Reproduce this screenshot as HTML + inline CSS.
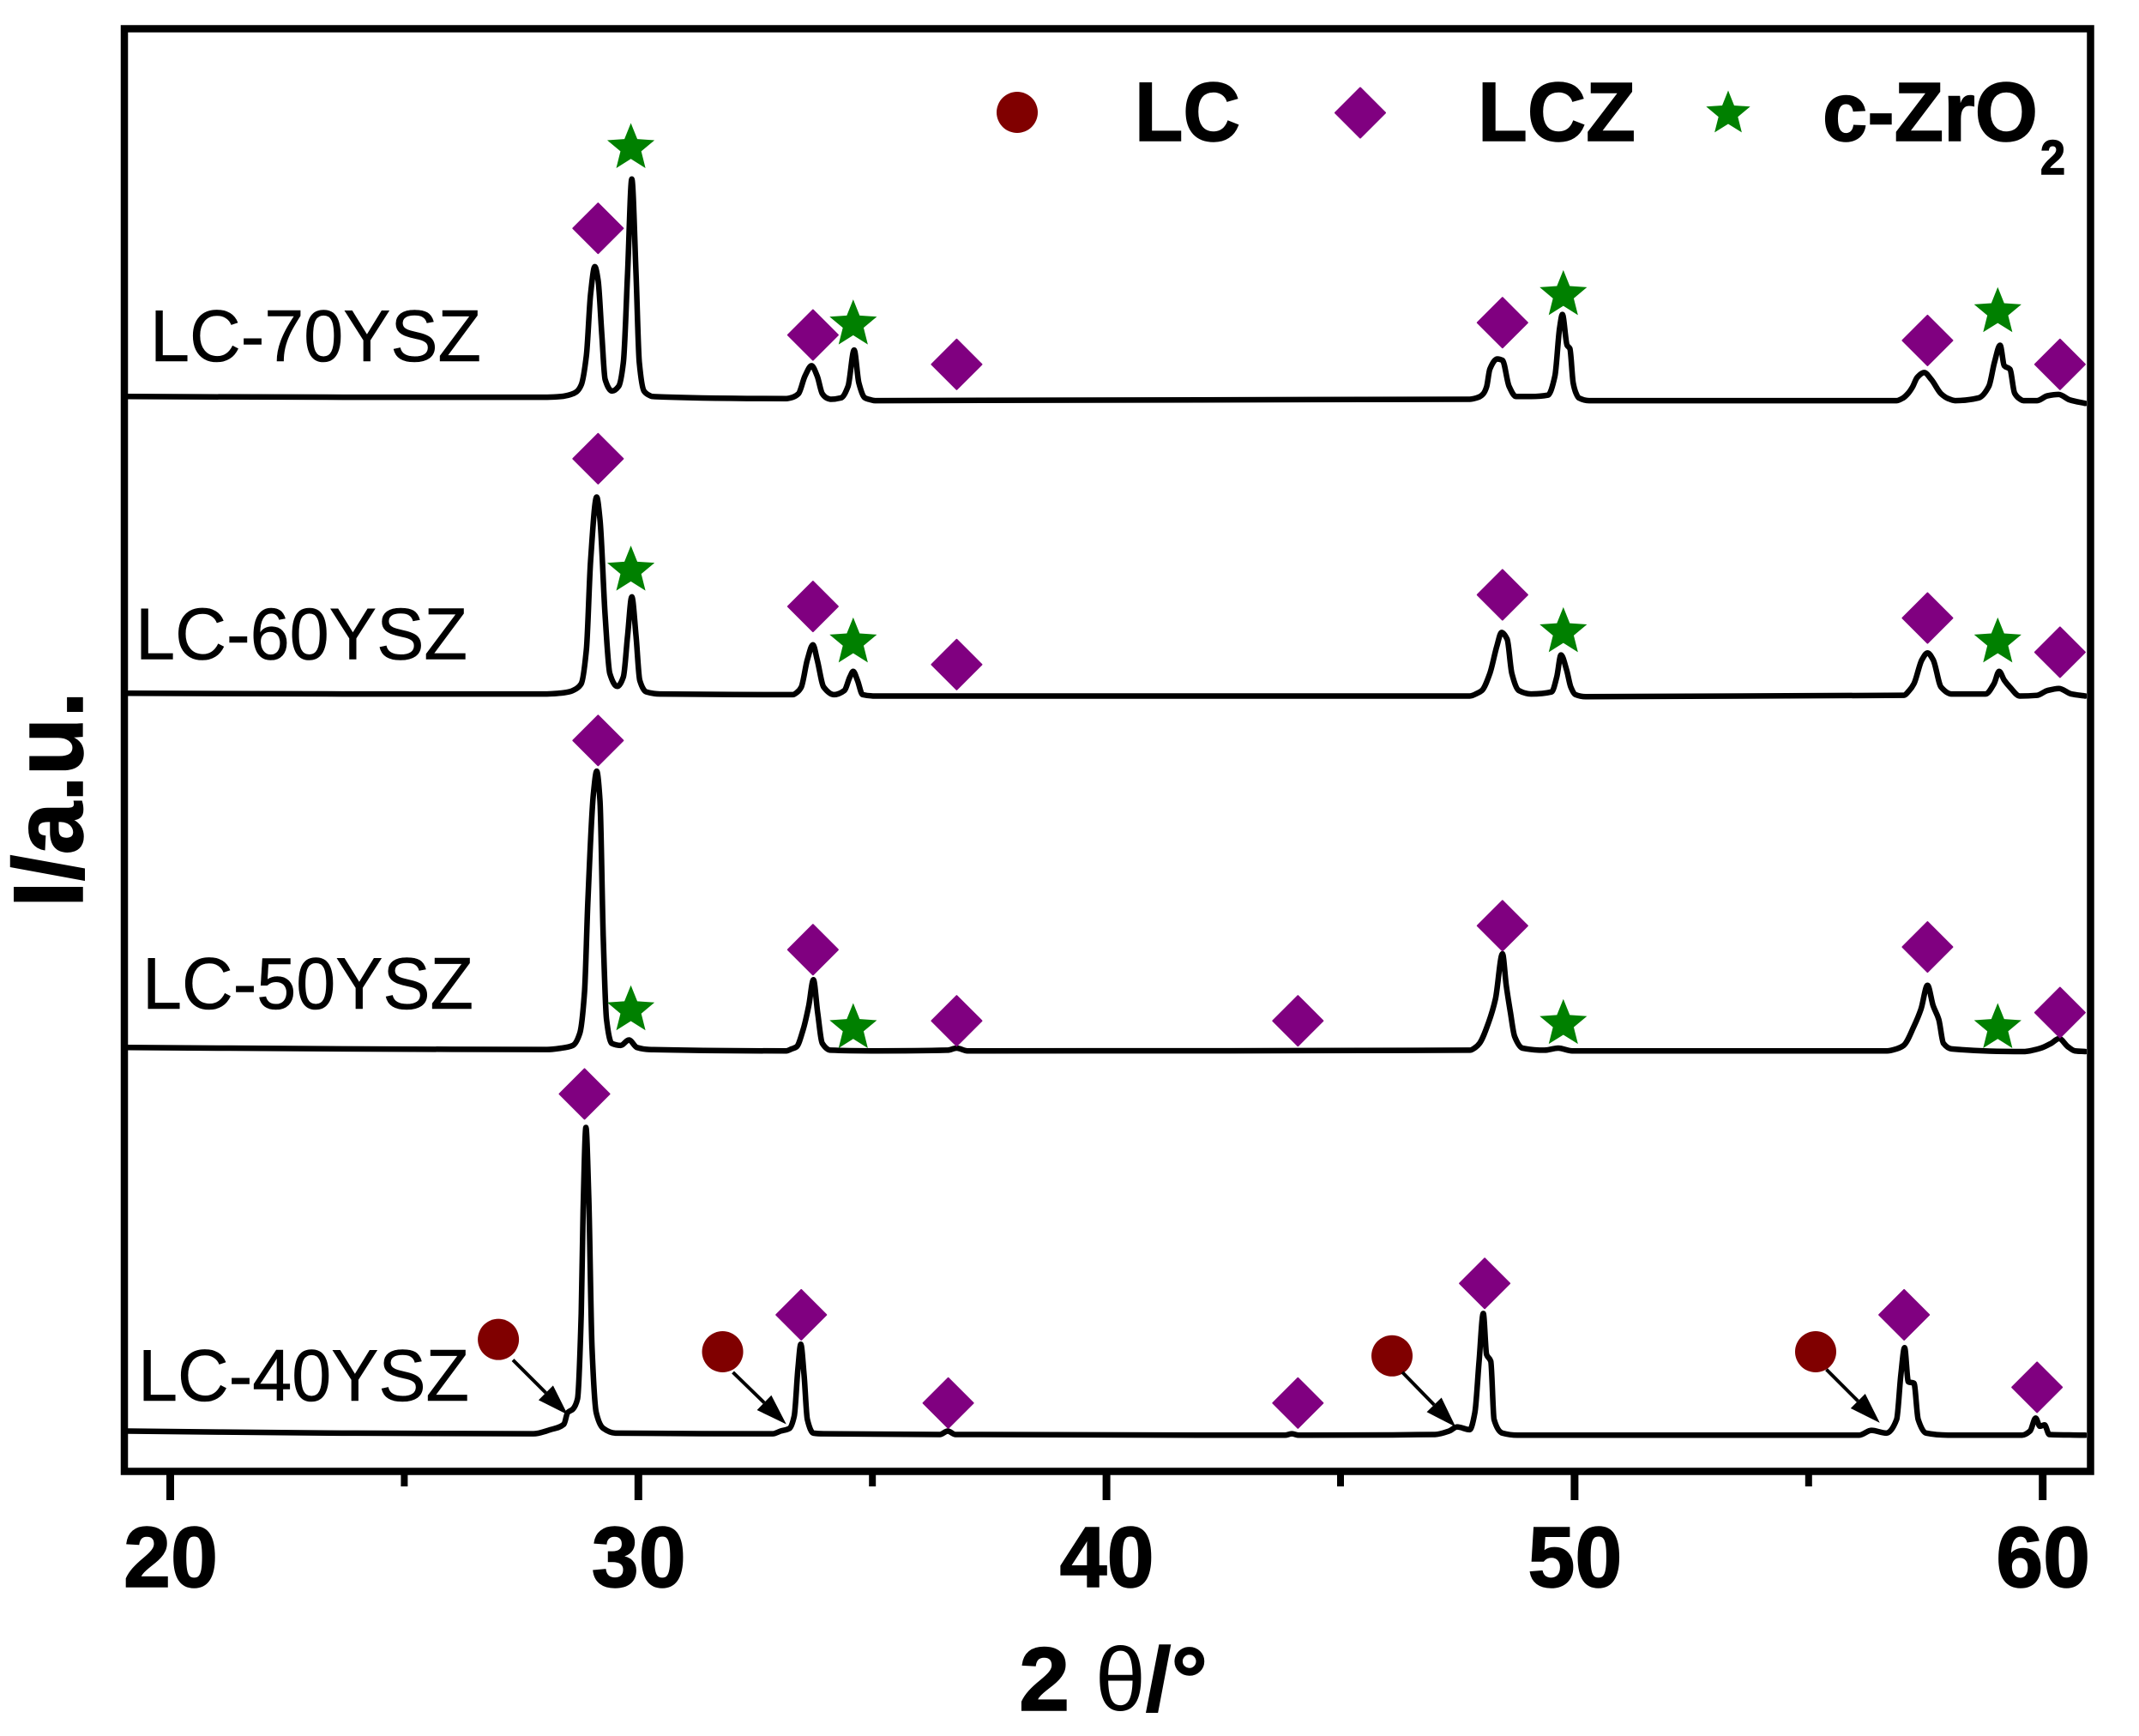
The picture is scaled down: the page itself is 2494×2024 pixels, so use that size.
<!DOCTYPE html>
<html lang="en">
<head>
<meta charset="utf-8">
<title>XRD patterns of LC-YSZ samples</title>
<style>
  html, body { margin: 0; padding: 0; background: #fff; }
  svg { display: block; }
  text { font-family: "Liberation Sans", "DejaVu Sans", sans-serif; fill: #000; }
  .b { font-weight: bold; stroke: #000; stroke-width: 1.5; }
  .r { stroke: #000; stroke-width: 0.6; }
</style>
</head>
<body>
<svg id="chart" xmlns="http://www.w3.org/2000/svg" width="2494" height="2024" viewBox="0 0 2494 2024">
  <rect width="2494" height="2024" fill="#fff"/>
  <defs>
    <clipPath id="plot-clip"><rect x="149" y="37.5" width="2284" height="1674"/></clipPath>
  </defs>
  <g id="series-layer" clip-path="url(#plot-clip)"></g>
  <g id="marker-layer" clip-path="url(#plot-clip)"></g>
  <g id="tick-layer"></g>
  <rect x="145" y="33.5" width="2292.5" height="1682" fill="none" stroke="#000" stroke-width="8.5"/>

  <text class="r" x="175" y="421" font-size="85" textLength="386" lengthAdjust="spacingAndGlyphs">LC-70YSZ</text>
  <text class="r" x="158" y="768.5" font-size="85" textLength="387" lengthAdjust="spacingAndGlyphs">LC-60YSZ</text>
  <text class="r" x="166" y="1176" font-size="85" textLength="386" lengthAdjust="spacingAndGlyphs">LC-50YSZ</text>
  <text class="r" x="161" y="1633" font-size="85" textLength="386" lengthAdjust="spacingAndGlyphs">LC-40YSZ</text>

  <g>
    <circle cx="1186" cy="131" r="24" fill="#800000"/>
    <text class="b" x="1323" y="164" font-size="97" textLength="123" lengthAdjust="spacingAndGlyphs">LC</text>
    <path d="M1586 102.500L1615 131.500L1586 160.500L1557 131.500Z" fill="#800080" stroke="#800080" stroke-width="2" stroke-linejoin="round"/>
    <text class="b" x="1723" y="164" font-size="97" textLength="184" lengthAdjust="spacingAndGlyphs">LCZ</text>
    <path id="legend-star" fill="#008000"/>
    <text class="b" x="2125" y="164" font-size="97" textLength="251" lengthAdjust="spacingAndGlyphs">c-ZrO</text>
    <text class="b" x="2379" y="203" font-size="57" textLength="29" lengthAdjust="spacingAndGlyphs">2</text>
  </g>

  <text class="b" x="1188" y="1994" font-size="105" textLength="220" lengthAdjust="spacingAndGlyphs">2 <tspan font-weight="normal" stroke-width="0">θ</tspan>/°</text>
  <text class="b" transform="translate(96,1058) rotate(-90)" x="0" y="0" font-size="115" textLength="252" lengthAdjust="spacingAndGlyphs">I/a.u.</text>
</svg>

<script>
// ---- Axis data ----
const xMajorTicks = [20, 30, 40, 50, 60];
const xMinorTicks = [25, 35, 45, 55];
const xTickLabels = ["20", "30", "40", "50", "60"];

// ---- Series baselines (stacking offset, a.u.) ----
const offset70 = 1572;
const offset60 = 1138;
const offset50 = 618;
const offset40 = 57;

// ---- LC-70YSZ pattern ----
const theta70 = [19.10,23.70,28.05,28.35,28.56,28.68,28.78,28.89,28.98,29.07,29.14,29.22,29.29,29.44,29.58,29.68,29.77,29.86,29.95,30.02,30.12,30.20,30.31,33.16,33.30,33.42,33.56,33.70,33.82,33.93,34.02,34.11,34.33,34.48,34.61,34.71,34.84,34.92,35.06,47.76,47.95,48.05,48.12,48.19,48.35,48.46,48.60,48.75,49.07,49.43,49.58,49.68,49.74,49.84,49.90,49.97,50.03,50.09,50.31,56.88,57.02,57.13,57.22,57.32,57.47,57.62,57.83,57.98,58.13,58.63,58.85,58.97,59.09,59.18,59.30,59.40,59.50,59.59,59.88,60.10,60.34,60.58,60.91];
const intensity70 = [0,-1,-1,0,3,7,17,60,150,190,170,90,25,8,15,50,180,318,180,50,8,3,0,-3,-1,4,30,45,30,4,-2,-4,-2,15,68,20,-2,-4,-6,-4,-1,4,14,40,55,53,15,0,0,2,30,100,120,75,70,20,5,-2,-6,-6,-2,5,14,28,35,25,4,-3,-6,-2,15,50,75,45,40,5,-3,-6,-6,1,3,-5,-10];

// ---- LC-60YSZ pattern ----
const theta60 = [19.11,23.67,28.05,28.30,28.51,28.68,28.78,28.89,28.98,29.11,29.18,29.29,29.39,29.55,29.68,29.77,29.86,29.95,30.03,30.17,30.46,33.30,33.40,33.48,33.61,33.73,33.82,33.96,34.18,34.40,34.52,34.59,34.68,34.79,35.06,47.76,47.92,48.02,48.19,48.34,48.44,48.56,48.66,48.81,49.07,49.51,49.62,49.71,49.83,49.92,50.02,50.24,57.03,57.15,57.25,57.42,57.54,57.66,57.83,58.05,58.78,58.96,59.07,59.18,59.30,59.51,59.88,60.10,60.35,60.61,60.91];
const intensity60 = [0,-1,-1,0,2,7,14,64,194,287,254,114,29,10,24,84,141,84,19,2,-1,-2,2,9,49,71,49,9,-2,4,24,32,19,-2,-4,-4,0,4,29,69,89,79,29,4,-1,2,24,56,34,9,-2,-5,-3,4,14,49,59,49,9,-1,-1,14,32,19,9,-4,-3,4,7,-1,-4];

// ---- LC-50YSZ pattern ----
const theta50 = [19.10,23.67,28.05,28.35,28.60,28.75,28.85,28.92,29.04,29.11,29.18,29.25,29.32,29.43,29.62,29.80,29.97,30.23,33.16,33.28,33.38,33.52,33.64,33.74,33.83,33.93,34.11,35.06,36.60,36.80,37.03,47.76,47.88,47.97,48.16,48.31,48.46,48.54,48.63,48.72,48.89,49.36,49.65,49.95,56.67,56.88,57.03,57.25,57.40,57.54,57.66,57.78,57.88,58.05,59.59,59.96,60.18,60.35,60.54,60.69,60.91];
const intensity50 = [2,0,-1,1,5,23,83,213,373,406,363,163,43,8,5,13,2,-1,-3,0,3,28,63,101,53,8,-2,-3,-2,1,-3,-2,2,8,38,73,139,93,53,18,1,-2,1,-3,-3,0,5,33,58,93,63,43,8,0,-4,1,8,15,3,-3,-4];

// ---- LC-40YSZ pattern ----
const theta40 = [19.10,23.67,27.76,28.12,28.41,28.49,28.60,28.70,28.78,28.82,28.88,28.94,29.01,29.10,29.25,29.51,32.87,33.04,33.23,33.33,33.41,33.47,33.54,33.61,33.74,33.96,36.44,36.61,36.77,43.81,43.96,44.11,47.02,47.32,47.49,47.76,47.87,47.96,48.05,48.12,48.21,48.28,48.46,48.78,56.08,56.34,56.66,56.88,56.97,57.05,57.13,57.25,57.34,57.51,57.98,59.56,59.73,59.85,59.94,60.04,60.14,60.91];
const intensity40 = [2,-1,-2,4,12,29,34,49,174,324,446,344,124,29,6,-1,-2,2,6,24,94,129,84,19,-1,-2,-3,2,-3,-4,-2,-4,-3,2,8,4,29,104,174,114,104,19,-1,-4,-4,3,-1,19,84,124,74,72,19,-1,-4,-4,2,21,9,11,-3,-4];

// ---- Phase markers (2-theta, height in a.u.) ----
const lczTheta = [29.14,33.73,36.80,48.46,57.54,60.37, 29.14,33.73,36.80,48.46,57.54,60.37, 29.14,33.73,36.80,44.09,48.46,57.54,60.37, 28.85,33.48,36.62,44.09,48.08,57.04,59.88];
const lczHeight = [1818,1662,1619,1680,1654,1619, 1481,1265,1180,1282,1248,1198, 1069,763,659,659,798,767,671, 552,229,100,100,275,229,123];
const zro2Theta = [29.84,34.59,49.76,59.04, 29.84,34.59,49.76,59.04, 29.84,34.59,49.76,59.04];
const zro2Height = [1939,1681,1724,1699, 1321,1216,1231,1216, 678,652,658,652];
const lcTheta = [27.01,31.80,46.10,55.15];
const lcHeight = [193,175,169,175];
const arrowTailTheta = [27.32,32.02,46.32,55.38];
const arrowTailHeight = [163,145,145,149];
const arrowHeadTheta = [28.49,33.16,47.46,56.52];
const arrowHeadHeight = [83,69,65,71];

// ---- Axis functions ----
function xScale(theta) { return 198.5 + 54.58 * (theta - 20); }
function yScale(value) { return 1715.5 - 0.7972 * value; }

const NS = 'http://www.w3.org/2000/svg';
function make(tag, attrs) {
  const el = document.createElementNS(NS, tag);
  for (const k in attrs) el.setAttribute(k, attrs[k]);
  return el;
}

// Monotone cubic path through the sampled points
function monotonePath(xs, ys) {
  const n = xs.length, m = [], d = [];
  for (let i = 0; i < n - 1; i++) d[i] = (ys[i + 1] - ys[i]) / (xs[i + 1] - xs[i]);
  m[0] = d[0]; m[n - 1] = d[n - 2];
  for (let i = 1; i < n - 1; i++) {
    if (d[i - 1] * d[i] <= 0) { m[i] = 0; continue; }
    const h0 = xs[i] - xs[i - 1], h1 = xs[i + 1] - xs[i];
    m[i] = 3 * (h0 + h1) / ((2 * h1 + h0) / d[i - 1] + (h1 + 2 * h0) / d[i]);
  }
  let p = 'M' + xs[0].toFixed(2) + ' ' + ys[0].toFixed(2);
  for (let i = 0; i < n - 1; i++) {
    const h = (xs[i + 1] - xs[i]) / 3;
    p += 'C' + (xs[i] + h).toFixed(2) + ' ' + (ys[i] + m[i] * h).toFixed(2) + ' ' +
         (xs[i + 1] - h).toFixed(2) + ' ' + (ys[i + 1] - m[i + 1] * h).toFixed(2) + ' ' +
         xs[i + 1].toFixed(2) + ' ' + ys[i + 1].toFixed(2);
  }
  return p;
}

function starPath(cx, cy, R) {
  const r = R * 0.44;
  const shiftY = cy + R * 0.095;
  let p = '';
  for (let i = 0; i < 10; i++) {
    const rad = i % 2 === 0 ? R : r;
    const a = -Math.PI / 2 + i * Math.PI / 5;
    p += (i ? 'L' : 'M') + (cx + rad * Math.cos(a)).toFixed(2) + ' ' + (shiftY + rad * Math.sin(a)).toFixed(2);
  }
  return p + 'Z';
}

// ---- Ticks ----
const tickLayer = document.getElementById('tick-layer');
xMajorTicks.forEach(function (t, i) {
  const tick = make('line', { x1: xScale(t), x2: xScale(t), y1: 1715, y2: 1749, stroke: '#000', 'stroke-width': 9 });
  
  
  tickLayer.appendChild(tick);
  const label = make('text', { x: xScale(t) + 0.5, y: 1850, 'text-anchor': 'middle', 'font-size': 100, 'font-weight': 'bold', stroke: '#000', 'stroke-width': 1.5, textLength: 110, lengthAdjust: 'spacingAndGlyphs' });
  
  
  label.textContent = xTickLabels[i];
  tickLayer.appendChild(label);
});
xMinorTicks.forEach(function (t) {
  const tick = make('line', { x1: xScale(t), x2: xScale(t), y1: 1715, y2: 1733, stroke: '#000', 'stroke-width': 8 });
  
  
  tickLayer.appendChild(tick);
});

// ---- Series ----
const seriesLayer = document.getElementById('series-layer');
function drawSeries(thetas, values, offset, name) {
  const xs = thetas.map(xScale);
  const ys = values.map(function (v) { return yScale(offset + v); });
  const line = make('path', { d: monotonePath(xs, ys), fill: 'none', stroke: '#000', 'stroke-width': 6.5, 'stroke-linejoin': 'round', 'stroke-linecap': 'round' });
  
  
  seriesLayer.appendChild(line);
}
drawSeries(theta70, intensity70, offset70, 'series-lc-70ysz');
drawSeries(theta60, intensity60, offset60, 'series-lc-60ysz');
drawSeries(theta50, intensity50, offset50, 'series-lc-50ysz');
drawSeries(theta40, intensity40, offset40, 'series-lc-40ysz');

// ---- Markers ----
const markerLayer = document.getElementById('marker-layer');
lczTheta.forEach(function (t, i) {
  const x = xScale(t), y = yScale(lczHeight[i]), h = 29;
  const d = 'M' + x + ' ' + (y - h) + 'L' + (x + h) + ' ' + y + 'L' + x + ' ' + (y + h) + 'L' + (x - h) + ' ' + y + 'Z';
  const el = make('path', { d: d, fill: '#800080', stroke: '#800080', 'stroke-width': 2, 'stroke-linejoin': 'round' });
  
  
  markerLayer.appendChild(el);
});
zro2Theta.forEach(function (t, i) {
  const el = make('path', { d: starPath(xScale(t), yScale(zro2Height[i]), 29), fill: '#008000' });
  
  
  markerLayer.appendChild(el);
});
lcTheta.forEach(function (t, i) {
  const el = make('circle', { cx: xScale(t), cy: yScale(lcHeight[i]), r: 24, fill: '#800000' });
  
  
  markerLayer.appendChild(el);
});
arrowTailTheta.forEach(function (t, i) {
  const x1 = xScale(t), y1 = yScale(arrowTailHeight[i]);
  const x2 = xScale(arrowHeadTheta[i]), y2 = yScale(arrowHeadHeight[i]);
  const len = Math.hypot(x2 - x1, y2 - y1), ux = (x2 - x1) / len, uy = (y2 - y1) / len;
  const headLen = 36, headHalf = 12;
  const bx = x2 - ux * headLen, by = y2 - uy * headLen;
  const shaft = make('line', { x1: x1, y1: y1, x2: bx, y2: by, stroke: '#000', 'stroke-width': 4 });
  
  
  markerLayer.appendChild(shaft);
  const head = make('polygon', { points: x2 + ',' + y2 + ' ' + (bx - uy * headHalf) + ',' + (by + ux * headHalf) + ' ' + (bx + uy * headHalf) + ',' + (by - ux * headHalf), fill: '#000' });
  
  
  markerLayer.appendChild(head);
});

document.getElementById('legend-star').setAttribute('d', starPath(2015, 130, 27));
</script>
</body>
</html>
